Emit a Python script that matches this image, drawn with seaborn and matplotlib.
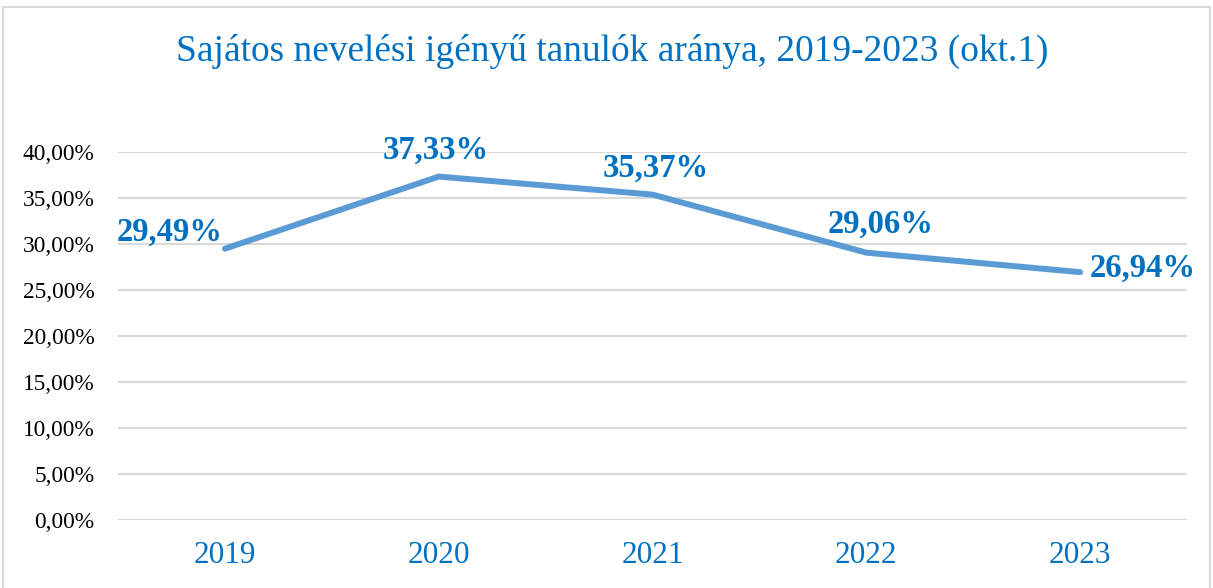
import matplotlib
matplotlib.use("Agg")
import matplotlib.pyplot as plt
import seaborn as sns
import pandas as pd
from matplotlib.patches import Rectangle
from matplotlib.ticker import FuncFormatter, MultipleLocator

years = ["2019", "2020", "2021", "2022", "2023"]
values = [29.49, 37.33, 35.37, 29.06, 26.94]
labels = ["29,49%", "37,33%", "35,37%", "29,06%", "26,94%"]
title = "Sajátos nevelési igényű tanulók aránya, 2019-2023 (okt.1)"

sns.set_theme(style="white")
plt.rcParams["font.family"] = ["Liberation Serif", "DejaVu Serif"]

df = pd.DataFrame({"year": years, "value": values})

fig = plt.figure(figsize=(12.13, 5.88), dpi=100)
ax = fig.add_axes([0.0973, 0.1156, 0.9786 - 0.0973, 0.7415 - 0.1156])

blue_text = "#0070C0"
line_col = "#5B9BD5"
grid_col = "#D9D9D9"

sns.lineplot(data=df, x="year", y="value", ax=ax, color=line_col,
             linewidth=4.3, solid_capstyle="round", solid_joinstyle="round", zorder=3)

ax.set_xlim(-0.5, 4.5)
ax.set_ylim(0, 40)
ax.yaxis.set_major_locator(MultipleLocator(5))
ax.yaxis.set_major_formatter(FuncFormatter(lambda v, p: f"{v:.2f}".replace(".", ",") + "%"))
ax.grid(axis="y", color=grid_col, linewidth=1.5)
ax.set_axisbelow(True)
for s in ax.spines.values():
    s.set_visible(False)
ax.set_xlabel("")
ax.set_ylabel("")
ax.tick_params(axis="y", labelsize=16.8, colors="black", pad=17, length=0)
ax.tick_params(axis="x", labelsize=22.5, labelcolor=blue_text, pad=15, length=0)

offsets = [(-2, 12, "right", "center"),
           (-2, 8, "center", "bottom"),
           (2, 8, "center", "bottom"),
           (10, 9, "center", "bottom"),
           (7, 3, "left", "center")]
for i, (lab, v) in enumerate(zip(labels, values)):
    dx, dy, ha, va = offsets[i]
    ax.annotate(lab, (i, v), xytext=(dx, dy), textcoords="offset points",
                ha=ha, va=va, fontsize=23.5, fontweight="bold", color=blue_text, zorder=4)

fig.text(0.5045, 0.912, title, ha="center", va="center", fontsize=26.9, color=blue_text)

fig.patches.append(Rectangle((3 / 1213, -0.1), (1210 - 3) / 1213, 1 - 6.5 / 588 + 0.1,
                             transform=fig.transFigure, fill=False,
                             edgecolor="#D9D9D9", linewidth=1.5))

fig.savefig("out.png", dpi=100)
